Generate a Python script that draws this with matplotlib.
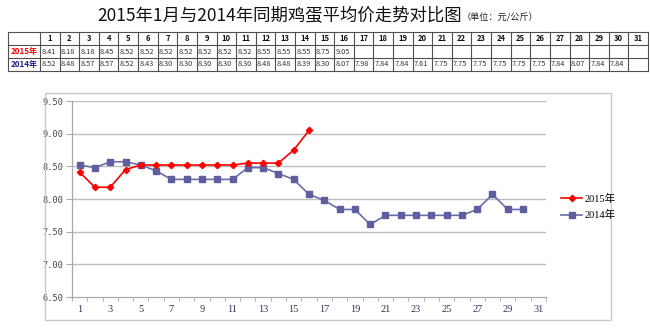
import matplotlib
matplotlib.use("Agg")
import matplotlib.pyplot as plt
from matplotlib.patches import Rectangle
from matplotlib.lines import Line2D

plt.rcParams['font.family'] = ['Noto Sans CJK SC', 'DejaVu Sans']

title_main = "2015年1月与2014年同期鸡蛋平均价走势对比图"
title_unit = "（单位：元/公斤）"
days = list(range(1, 32))
label_2015 = "2015年"
label_2014 = "2014年"
price_2015 = [8.41, 8.18, 8.18, 8.45, 8.52, 8.52, 8.52, 8.52, 8.52, 8.52, 8.52,
              8.55, 8.55, 8.55, 8.75, 9.05]
price_2014 = [8.52, 8.48, 8.57, 8.57, 8.52, 8.43, 8.30, 8.30, 8.30, 8.30, 8.30,
              8.48, 8.48, 8.39, 8.30, 8.07, 7.98, 7.84, 7.84, 7.61, 7.75, 7.75,
              7.75, 7.75, 7.75, 7.75, 7.84, 8.07, 7.84, 7.84]
y_ticks = [6.50, 7.00, 7.50, 8.00, 8.50, 9.00, 9.50]
x_tick_labels = list(range(1, 32, 2))

W, H = 650, 333
fig = plt.figure(figsize=(6.5, 3.33), dpi=100)

def fx(px):
    return px / W

def fy(py):
    return 1 - py / H

red = '#FF0000'
blue = '#5F5FA0'
blue_line = '#6C6CAC'

# Title
fig.text(fx(97), fy(16), title_main, fontsize=12.5, ha='left', va='center', color='#111111')
fig.text(fx(462), fy(18), title_unit, fontsize=6.6, ha='left', va='center', color='#222222')

# Table
tx0, tx1, ty0, ty1 = 8, 648, 32, 71
tab = fig.add_axes([fx(tx0), fy(ty1), fx(tx1 - tx0), (ty1 - ty0) / H])
first_w = 32
col_w = (tx1 - tx0 - first_w) / 31.0
tab.set_xlim(0, tx1 - tx0)
tab.set_ylim(3, 0)
tab.axis('off')
lc = '#505050'
for r in range(4):
    tab.plot([0, tx1 - tx0], [r, r], color=lc, lw=0.8, clip_on=False)
tab.plot([0, 0], [0, 3], color=lc, lw=0.8, clip_on=False)
for c in range(32):
    xx = first_w + c * col_w
    tab.plot([xx, xx], [0, 3], color=lc, lw=0.8, clip_on=False)
tab.text(first_w / 2, 1.5, label_2015, color=red, fontsize=5.8, fontweight='bold',
         ha='center', va='center')
tab.text(first_w / 2, 2.5, label_2014, color='#1F1F8F', fontsize=5.8, fontweight='bold',
         ha='center', va='center')
for i, d in enumerate(days):
    cx = first_w + (i + 0.5) * col_w
    tab.text(cx, 0.5, str(d), fontsize=5.5, fontweight='bold', ha='center', va='center',
             color='#111111')
    if i < len(price_2015):
        tab.text(first_w + i * col_w + 1.2, 1.5, f"{price_2015[i]:.2f}", fontsize=5.3,
                 ha='left', va='center', color='#333333')
    if i < len(price_2014):
        tab.text(first_w + i * col_w + 1.2, 2.5, f"{price_2014[i]:.2f}", fontsize=5.3,
                 ha='left', va='center', color='#333333')

# Chart frame
frame = Rectangle((fx(45), fy(320)), fx(611 - 45), (320 - 93) / H, transform=fig.transFigure,
                  fill=False, edgecolor='#C8C8C8', lw=1.0)
fig.patches.append(frame)

ax = fig.add_axes([fx(72), fy(297), fx(546 - 72), (297 - 101) / H])
ax.set_xlim(0.5, 31.5)
ax.set_ylim(6.5, 9.5)
for yv in y_ticks[1:]:
    ax.axhline(yv, color='#BEBEBE', lw=1.0, zorder=1)
for s in ['top', 'right']:
    ax.spines[s].set_visible(False)
for s in ['left', 'bottom']:
    ax.spines[s].set_color('#A8A8A8')
    ax.spines[s].set_linewidth(0.9)
ax.set_yticks(y_ticks)
ax.set_yticklabels([f"{v:.2f}" for v in y_ticks], family='DejaVu Sans Mono', fontsize=6.2,
                   color='#444444')
ax.set_xticks(x_tick_labels)
ax.set_xticklabels([str(v) for v in x_tick_labels], family='Liberation Serif', fontsize=7.5,
                   color='#333355')
ax.set_xticks([d + 0.5 for d in days[:-1]] + [0.5, 31.5], minor=True)
ax.tick_params(axis='x', which='major', length=0, pad=6)
ax.tick_params(axis='x', which='minor', length=3, color='#A8A8A8', direction='out')
ax.tick_params(axis='y', length=4, color='#A8A8A8', pad=2)

ax.plot(days[:len(price_2014)], price_2014, color=blue_line, lw=1.2, marker='s',
        markersize=4.5, markerfacecolor=blue, markeredgecolor=blue, zorder=3, clip_on=False)
ax.plot(days[:len(price_2015)], price_2015, color=red, lw=1.2, marker='D',
        markersize=3.2, markerfacecolor=red, markeredgecolor=red, zorder=4, clip_on=False)

handles = [Line2D([], [], color=red, lw=1.2, marker='D', markersize=3.2),
           Line2D([], [], color=blue_line, lw=1.2, marker='s', markersize=4.5,
                  markerfacecolor=blue, markeredgecolor=blue)]
fig.legend(handles, [label_2015, label_2014], loc='center left',
           bbox_to_anchor=(fx(552), fy(207)), frameon=False,
           handlelength=2.0, handletextpad=0.2, labelspacing=0.6,
           prop={'family': ['Liberation Serif', 'Noto Sans CJK SC'], 'size': 7.5})

fig.savefig('out.png', dpi=100)
